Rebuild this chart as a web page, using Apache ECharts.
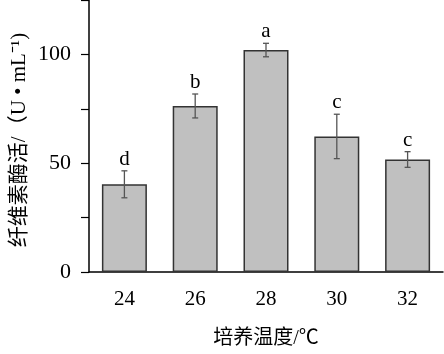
<!DOCTYPE html>
<html><head><meta charset="utf-8">
<script src="https://cdn.jsdelivr.net/npm/echarts@6/dist/echarts.min.js"></script>
<style>html,body{margin:0;padding:0;background:#fff}#c{width:444px;height:354px}</style>
</head><body><div id="c"></div>
<script>
var categories = ['24', '26', '28', '30', '32'];
var values = [40.3, 76.3, 102.0, 62.3, 51.7];
var errors = [6.2, 5.5, 3.1, 10.2, 3.6];
var letters = ['d', 'b', 'a', 'c', 'c'];
var yTicks = [0, 50, 100];

var chart = echarts.init(document.getElementById('c'), null, {renderer: 'canvas'});
var serif = '"Liberation Serif","Times New Roman",serif';
var cjk = '"Liberation Serif","Noto Sans CJK SC",serif';
var errData = categories.map(function (c, i) { return [i, values[i], errors[i], letters[i]]; });

chart.setOption({
  animation: false,
  grid: {left: 89, right: 1, top: 0, bottom: 78},
  xAxis: {
    type: 'category', data: categories,
    axisLine: {lineStyle: {color: '#000', width: 1.5}},
    axisTick: {alignWithLabel: true, length: 8, lineStyle: {color: '#000', width: 1.2}},
    axisLabel: {color: '#000', fontFamily: serif, fontSize: 21, margin: 17},
    name: '培养温度/℃', nameLocation: 'middle', nameGap: 57,
    nameTextStyle: {color: '#000', fontFamily: cjk, fontSize: 20}
  },
  yAxis: {
    type: 'value', min: 0, max: 125, interval: 25,
    axisLine: {show: true, lineStyle: {color: '#000', width: 1.5}},
    axisTick: {show: true, length: 8, lineStyle: {color: '#000', width: 1.2}},
    splitLine: {show: false},
    axisLabel: {color: '#000', fontFamily: serif, fontSize: 22, margin: 18,
      formatter: function (v) { return yTicks.indexOf(v) >= 0 ? String(v) : ''; }}
  },
  graphic: [{
    type: 'text', rotation: Math.PI / 2, x: 19, y: 140,
    style: {text: '纤维素酶活/（U • mL⁻¹)', fill: '#000', font: '21px ' + cjk,
      textAlign: 'center', textVerticalAlign: 'middle'}
  }],
  series: [{
    type: 'bar', data: values, barWidth: 45,
    itemStyle: {color: '#c0c0c0', borderColor: '#333', borderWidth: 1.5}
  }, {
    type: 'custom', data: errData, z: 5,
    renderItem: function (params, api) {
      var x = api.value(0), v = api.value(1), e = api.value(2);
      var top = api.coord([x, v + e]), bot = api.coord([x, v - e]);
      var cap = 3, st = {stroke: '#555', lineWidth: 1.3};
      return {type: 'group', children: [
        {type: 'line', shape: {x1: top[0], y1: top[1], x2: bot[0], y2: bot[1]}, style: st},
        {type: 'line', shape: {x1: top[0] - cap, y1: top[1], x2: top[0] + cap, y2: top[1]}, style: st},
        {type: 'line', shape: {x1: bot[0] - cap, y1: bot[1], x2: bot[0] + cap, y2: bot[1]}, style: st},
        {type: 'text', x: top[0], y: top[1] - 1, style: {text: api.value(3), fill: '#000',
          font: '21px ' + serif, textAlign: 'center', textVerticalAlign: 'bottom'}}
      ]};
    }
  }]
});
</script></body></html>
